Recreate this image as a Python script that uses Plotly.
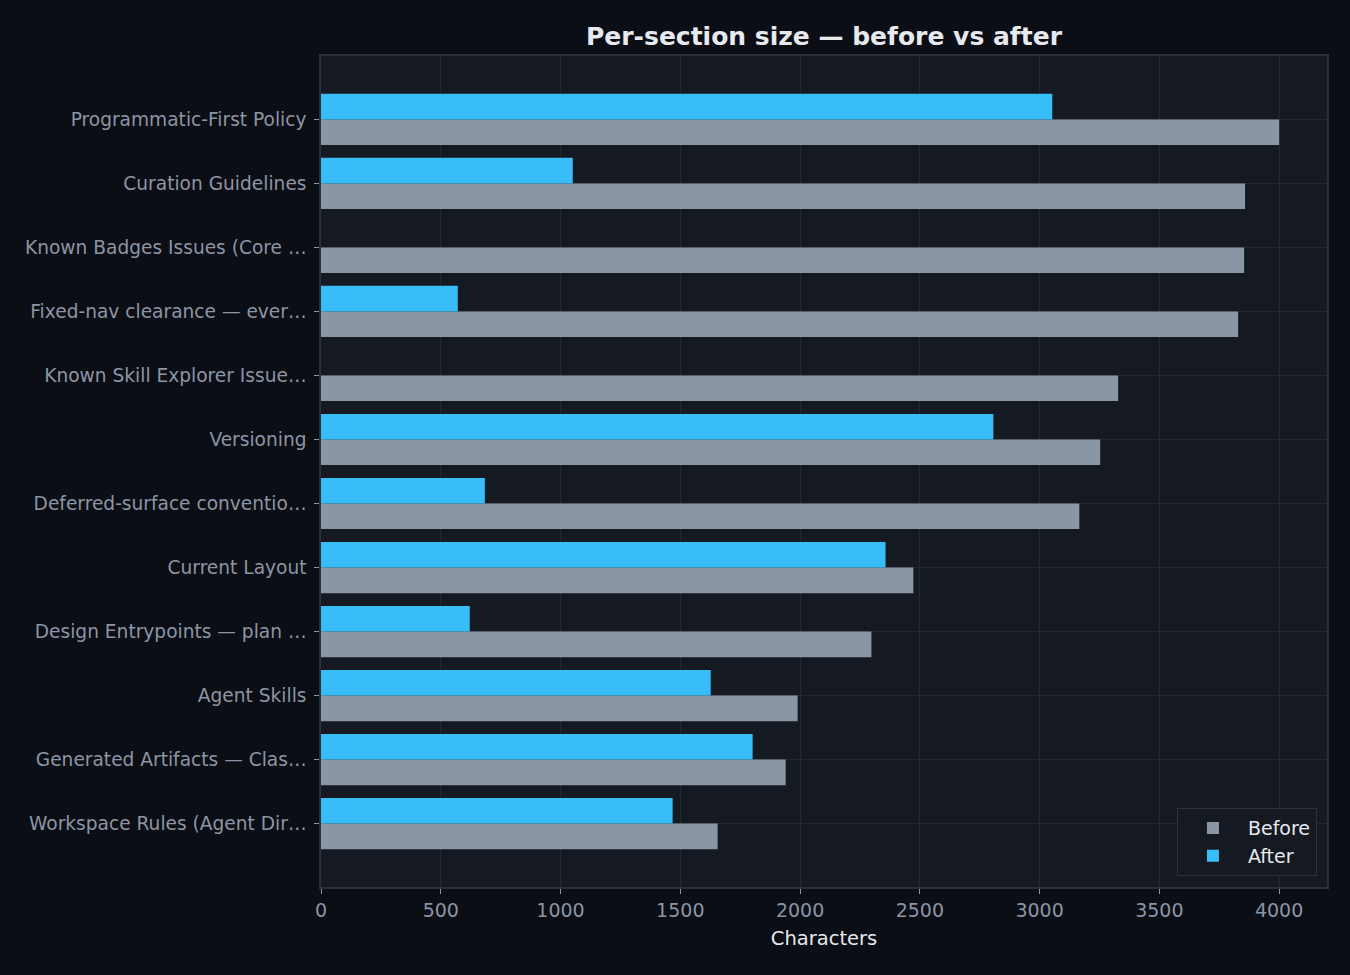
import plotly.graph_objects as go

categories = [
    "Programmatic-First Policy",
    "Curation Guidelines",
    "Known Badges Issues (Core …",
    "Fixed-nav clearance — ever…",
    "Known Skill Explorer Issue…",
    "Versioning",
    "Deferred-surface conventio…",
    "Current Layout",
    "Design Entrypoints — plan …",
    "Agent Skills",
    "Generated Artifacts — Clas…",
    "Workspace Rules (Agent Dir…",
]
before = [4000, 3858, 3854, 3829, 3328, 3253, 3166, 2473, 2298, 1990, 1940, 1656]
after = [3053, 1051, 0, 571, 0, 2807, 684, 2357, 621, 1627, 1802, 1468]

cats_r = categories[::-1]
before_r = before[::-1]
after_r = after[::-1]

PAGE_BG = "#0b0e15"
PLOT_BG = "#151921"
GRID = "#222731"
SPINE = "#2b313c"
TICK = "#8b95a4"
LIGHT = "#e6e9ee"

fig = go.Figure()
fig.add_trace(go.Bar(y=cats_r, x=before_r, orientation="h", name="Before",
                     marker=dict(color="#8b96a5", line=dict(width=0))))
fig.add_trace(go.Bar(y=cats_r, x=after_r, orientation="h", name="After",
                     marker=dict(color="#38bdf8", line=dict(width=0))))

fig.update_layout(
    width=1350, height=975,
    paper_bgcolor=PAGE_BG, plot_bgcolor=PLOT_BG,
    barmode="group", bargap=0.2, bargroupgap=0,
    margin=dict(l=321, r=23, t=56, b=88),
    font=dict(family="DejaVu Sans", color=TICK, size=19),
    title=dict(text="<b>Per-section size — before vs after</b>", x=(321 + 1327) / 2 / 1350,
               xanchor="center", y=1 - 36 / 975, yanchor="middle",
               font=dict(size=25, color=LIGHT, family="DejaVu Sans")),
    xaxis=dict(range=[0, 4200], tickvals=[0, 500, 1000, 1500, 2000, 2500, 3000, 3500, 4000],
               showgrid=True, gridcolor=GRID, gridwidth=1, zeroline=False,
               showline=True, linecolor=SPINE, linewidth=1.5, mirror=True,
               ticks="outside", ticklen=5, tickcolor=TICK, tickwidth=1,
               tickfont=dict(size=19, color=TICK),
               title=dict(text="Characters", font=dict(size=19.5, color=LIGHT), standoff=12)),
    yaxis=dict(range=[-0.99, 11.99], showgrid=True, gridcolor=GRID, gridwidth=1,
               showline=True, linecolor=SPINE, linewidth=1.5, mirror=True,
               ticks="outside", ticklen=5, tickcolor=TICK, tickwidth=1,
               ticklabelstandoff=4,
               tickfont=dict(size=18.6, color=TICK), zeroline=False),
    legend=dict(x=0.99, y=0.013, xanchor="right", yanchor="bottom",
                bgcolor=PLOT_BG, bordercolor=SPINE, borderwidth=1,
                itemwidth=60,
                font=dict(size=19, color=LIGHT), traceorder="normal"),
    showlegend=True,
)

fig.write_html("out.html")
